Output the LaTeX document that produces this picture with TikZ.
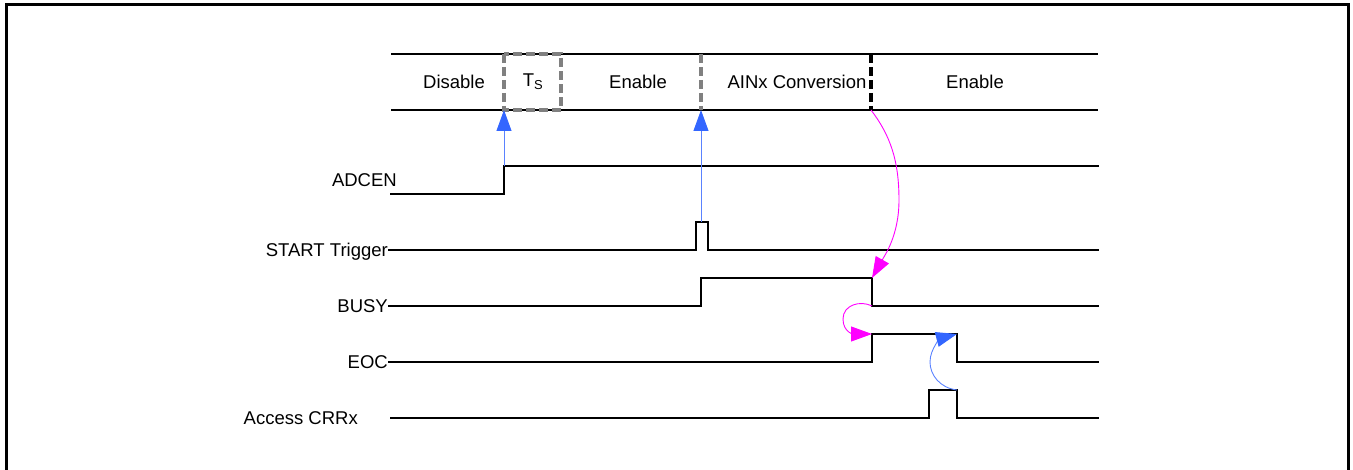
\documentclass[tikz,border=0pt]{standalone}
\usepackage{fontspec}
\setmainfont{Liberation Sans}
\usetikzlibrary{arrows.meta}
\definecolor{trigblue}{RGB}{51,102,255}
\definecolor{linkblue}{RGB}{90,130,255}
\definecolor{evmag}{RGB}{255,0,255}
\definecolor{phasegray}{RGB}{128,128,128}
\begin{document}
\begin{tikzpicture}[x=1pt,y=-1pt,
  txt/.style={font=\fontsize{18.5}{22}\selectfont, inner sep=0pt},
  siglabel/.style={txt, anchor=base east},
  wave/.style={line width=1.8pt, line join=miter, line cap=rect},
  bandline/.style={line width=1.6pt},
  phasedash/.style={line width=3.2pt, phasegray, dash pattern=on 9pt off 4pt},
  enddash/.style={line width=3.4pt, black, dash pattern=on 9pt off 4pt},
  cause/.style={line width=0.9pt, linkblue, -{Triangle[length=21pt,width=15pt,color=trigblue]}},
  magcause/.style={line width=0.9pt, evmag, -{Triangle[length=21pt,width=15pt]}},
  bluearc/.style={line width=0.9pt, linkblue, -{Triangle[length=21pt,width=15pt,color=trigblue]}}
]
\useasboundingbox (0,0) rectangle (1353,470);
% outer frame (bottom edge lies below the page)
\draw[line width=3pt] (6,470) -- (6,5) -- (1348,5) -- (1348,470);

% phase band
\draw[bandline] (391,54) -- (1098,54);
\draw[bandline] (391,110) -- (1098,110);
\draw[phasedash] (504,54) rectangle (561,110);
\draw[phasedash] (701,54) -- (701,110);
\draw[enddash] (871,54) -- (871,110);
\node[txt] (pdis) at (454,82) {Disable};
\node[txt] (pts)  at (533,82) {T\textsubscript{S}};
\node[txt] (pen1) at (638,82) {Enable};
\node[txt] (pconv) at (797,82) {AINx Conversion};
\node[txt] (pen2) at (975,82) {Enable};

% signal names
\node[siglabel] (lad) at (397,186.5) {ADCEN};
\node[siglabel] (lst) at (388,256.5) {START Trigger};
\node[siglabel] (lbu) at (388,312.5) {BUSY};
\node[siglabel] (leo) at (388,368.5) {EOC};
\node[siglabel] (lac) at (358,424.5) {Access CRRx};

% line starts and key edge points
\coordinate (adstart) at (391,194);
\coordinate (ststart) at (389,250);
\coordinate (bustart) at (389,306);
\coordinate (eostart) at (389,362);
\coordinate (acstart) at (391,418);
\coordinate (adrise) at (504,166);
\coordinate (tsmark) at (504,110);
\coordinate (sttop)  at (701,222);
\coordinate (convmark) at (701,110);
\coordinate (endmark) at (871,110);
\coordinate (busyfallhi) at (872,278);
\coordinate (busyfalllo) at (872,306);
\coordinate (eocrise) at (872,334);
\coordinate (eocfallhi) at (957,334);
\coordinate (crrfall) at (957,390);

% waveforms
\draw[wave] (adstart) -- (504,194) -- (adrise) -- (1098,166);
\draw[wave] (ststart) -- (696,250) -- (696,222) -- (708,222) -- (708,250) -- (1098,250);
\draw[wave] (bustart) -- (701,306) -- (701,278) -- (busyfallhi) -- (busyfalllo) -- (1098,306);
\draw[wave] (eostart) -- (872,362) -- (eocrise) -- (eocfallhi) -- (957,362) -- (1098,362);
\draw[wave] (acstart) -- (929,418) -- (929,390) -- (crrfall) -- (957,418) -- (1098,418);

% causal links
\draw[cause] (adrise) -- (tsmark);
\draw[cause] (sttop) -- (convmark);
\draw[magcause] (endmark) .. controls (890,135) and (899,160) .. (899,200)
  .. controls (899,235) and (885,255) .. (busyfallhi);
\draw[magcause] (busyfalllo) .. controls (860,300) and (843,305) .. (843,319)
  .. controls (843,333) and (855,334) .. (eocrise);
\draw[bluearc] (crrfall) .. controls (940,388) and (930,375) .. (930,362)
  .. controls (930,348) and (942,338) .. (eocfallhi);
\end{tikzpicture}
\end{document}
